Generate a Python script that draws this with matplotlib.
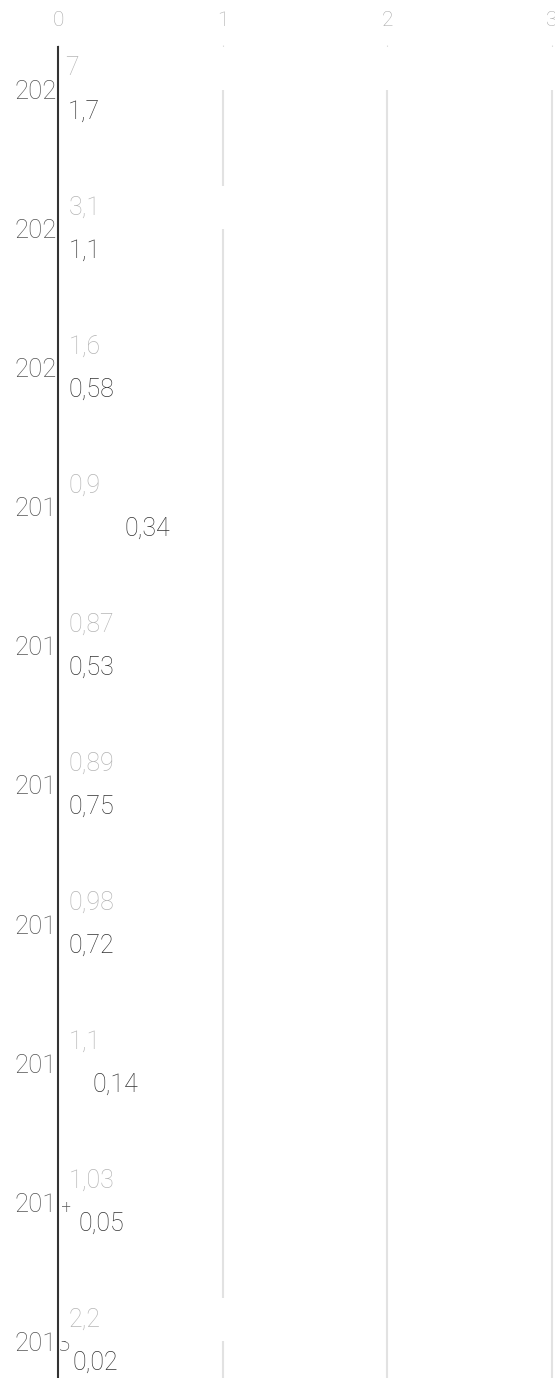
import matplotlib.pyplot as plt

years = ['2022', '2021', '2020', '2019', '2018', '2017', '2016', '2015', '2014', '2013']
prev_values = [7, 3.1, 1.6, 0.9, 0.87, 0.89, 0.98, 1.1, 1.03, 2.2]
curr_values = [1.7, 1.1, 0.58, 0.34, 0.53, 0.75, 0.72, 0.14, 0.05, 0.02]
x_ticks = [0, 1, 2, 3]

# label offsets from the axis line, in pixels (as laid out in the original)
prev_dx = [7, 11, 11, 11, 11, 11, 11, 11, 11, 11]
curr_dx = [10, 11, 11, 67, 11, 11, 11, 34, 20, 14]

plt.rcParams['font.family'] = ['Roboto', 'DejaVu Sans']
plt.rcParams['font.weight'] = 'light'

W, H = 555, 1378
fig = plt.figure(figsize=(W / 100, H / 100), dpi=100)
ax = fig.add_axes([58 / W, 0, (W - 58) / W, (H - 47) / H])

ys = list(range(len(years)))
off = 0.155
bh = 0.31

ax.set_xlim(0, 3.018)
ax.set_ylim(9.266, -0.309)
ax.set_xticks(x_ticks)
ax.set_xticklabels([str(t) for t in x_ticks])
ax.grid(axis='x', color='#e2e2e2', lw=1.5)
ax.set_axisbelow(True)
for s in ax.spines.values():
    s.set_visible(False)
ax.set_yticks(ys)
ax.set_yticklabels(years)
ax.tick_params(axis='y', length=0, pad=31, labelsize=18.5, labelcolor='#555555')
for lbl in ax.get_yticklabels():
    lbl.set_ha('left')

ax2 = ax.twiny()
ax.xaxis.tick_top()
ax.tick_params(axis='x', length=1.5, color='#dddddd', pad=11, labelsize=15, labelcolor='#aaaaaa')
ax2.set_xlim(0, 3.018 * 2)
ax2.xaxis.set_visible(False)
for k, s in ax2.spines.items():
    s.set_visible(k == 'left')
ax2.spines['left'].set_color('#333333')
ax2.spines['left'].set_linewidth(1.5)
ax2.spines['left'].set_zorder(5)

# white bars hide the grid and part of the year labels
ax2.barh([y - off for y in ys], prev_values, height=bh, color='white', zorder=2)
ax2.barh([y + off for y in ys], curr_values, height=bh, color='white', zorder=2)

for y, v, dx in zip(ys, prev_values, prev_dx):
    ax2.annotate(f'{v:g}'.replace('.', ','), (0, y - off), xytext=(dx * 0.72, 0),
                 textcoords='offset points', va='center', ha='left',
                 fontsize=18, color='#b5b5b5', zorder=4)
for y, v, dx in zip(ys, curr_values, curr_dx):
    ax2.annotate(f'{v:g}'.replace('.', ','), (0, y + off), xytext=(dx * 0.72, 0),
                 textcoords='offset points', va='center', ha='left',
                 fontsize=18, color='#333333', zorder=4)

fig.savefig('out.png', dpi=100)
